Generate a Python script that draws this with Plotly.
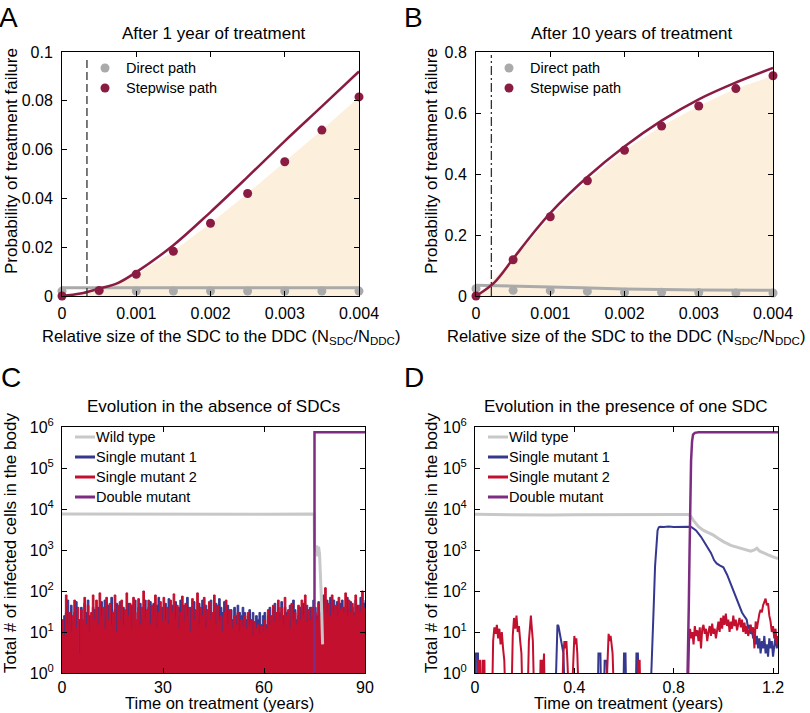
import plotly.graph_objects as go

W, H = 810, 713


def fx(p):
    return p / W


def fy(p):
    return 1 - p / H


# ---------------- DATA ----------------
# Panels A & B: relative size of SDC to DDC
SDC_RATIO = [0, 0.0005, 0.001, 0.0015, 0.002, 0.0025, 0.003, 0.0035, 0.004]
CURVE_X = [0, 0.00025, 0.0005, 0.00075, 0.001, 0.0015, 0.002, 0.0025, 0.003, 0.0035, 0.004]

A_DIRECT_SIM = [0.002, 0.002, 0.002, 0.002, 0.002, 0.002, 0.002, 0.002, 0.002]
A_STEP_SIM = [0.0, 0.0023, 0.0089, 0.0183, 0.0298, 0.042, 0.055, 0.068, 0.0816]
A_DIRECT_X = [0, 0.004]
A_DIRECT_CURVE = [0.0034, 0.0034]
A_STEP_CURVE = [0, 0.001, 0.003, 0.0053, 0.0098, 0.0208, 0.0344, 0.0488, 0.0635, 0.0777, 0.092]
A_THRESHOLD = 0.000336

B_DIRECT_SIM = [0.024, 0.0186, 0.0175, 0.015, 0.012, 0.012, 0.011, 0.010, 0.010]
B_STEP_SIM = [0.0, 0.119, 0.26, 0.378, 0.478, 0.557, 0.623, 0.680, 0.722]
B_DIRECT_X = [0, 0.001, 0.002, 0.003, 0.004]
B_DIRECT_CURVE = [0.035, 0.0295, 0.023, 0.0197, 0.0186]
B_STEP_CURVE = [0, 0.045, 0.122, 0.2, 0.272, 0.39, 0.49, 0.575, 0.645, 0.70, 0.748]
B_THRESHOLD = 0.000207

LEGEND_AB = ["Direct path", "Stepwise path"]
LEGEND_CD = ["Wild type", "Single mutant 1", "Single mutant 2", "Double mutant"]

# Panel C: evolution without SDCs (years), sampled every half year
C_TIME = [i * 0.5 for i in range(181)]
C_MUT2 = [
    20, 8, 80, 15, 30, 10, 25, 60, 12, 40,
    3, 35, 20, 70, 15, 45, 10, 30, 80, 20,
    60, 15, 90, 25, 40, 12, 70, 20, 50, 15,
    30, 80, 10, 45, 20, 60, 15, 35, 90, 25,
    50, 12, 70, 30, 20, 65, 15, 40, 100, 20,
    35, 60, 15, 45, 25, 80, 12, 30, 55, 18,
    70, 20, 40, 15, 60, 30, 85, 20, 45, 12,
    30, 75, 18, 50, 25, 40, 10, 65, 20, 35,
    90, 15, 40, 25, 70, 12, 35, 55, 20, 30,
    80, 15, 45, 20, 25, 10, 30, 60, 15, 35,
    20, 12, 25, 15, 30, 10, 20, 14, 25, 12,
    30, 15, 20, 8, 18, 12, 15, 9, 14, 10,
    20, 12, 35, 15, 25, 45, 18, 30, 60, 20,
    40, 15, 70, 25, 35, 12, 50, 20, 30, 15,
    45, 20, 60, 25, 80, 18, 35, 20, 40, 25,
    30, 20, 50, 25, 60, 35, 120, 30, 50, 25,
    80, 30, 45, 25, 70, 35, 40, 30, 90, 25,
    60, 30, 50, 25, 80, 35, 45, 30, 100, 40,
    20,
]
C_MUT1 = [
    12, 25, 30, 60, 10, 45, 18, 30, 55, 3,
    20, 40, 15, 50, 30, 60, 25, 15, 40, 35,
    25, 40, 30, 55, 20, 60, 30, 45, 15, 70,
    20, 35, 50, 15, 55, 25, 40, 20, 35, 50,
    20, 45, 30, 60, 15, 40, 50, 25, 30, 60,
    20, 40, 55, 25, 50, 20, 45, 70, 15, 40,
    25, 50, 20, 65, 15, 45, 30, 55, 25, 40,
    60, 20, 45, 30, 70, 15, 40, 25, 55, 30,
    20, 50, 30, 60, 20, 45, 25, 35, 60, 20,
    30, 50, 20, 65, 40, 30, 55, 20, 45, 25,
    35, 20, 40, 25, 45, 30, 25, 40, 30, 20,
    25, 35, 20, 30, 15, 25, 20, 30, 15, 25,
    30, 15, 25, 40, 20, 35, 50, 25, 40, 30,
    55, 25, 40, 30, 20, 45, 25, 60, 35, 20,
    25, 40, 30, 50, 20, 45, 30, 40, 25, 60,
    40, 25, 55, 30, 40, 80, 35, 60, 30, 70,
    40, 60, 30, 55, 35, 50, 60, 40, 35, 70,
    35, 55, 40, 30, 60, 45, 35, 70, 40, 50,
    60,
]
C_WT_T = [0, 20, 40, 60, 74.9, 75.0, 75.3, 75.6, 75.9, 76.2, 76.5, 76.8, 77.0, 77.2, 77.4]
C_WT = [7500, 7400, 7500, 7450, 7500, 1300, 900, 1300, 700, 1200, 800, 250, 80, 20, 5]
C_DM_T = [75.0, 75.0, 90]
C_DM = [0.5, 740000, 740000]
C_BASE_T = [0, 90]
C_BASE = [1, 1]

# Panel D: evolution with one SDC (years)
D_WT_T = [0, 0.1, 0.2, 0.3, 0.4, 0.5, 0.6, 0.7, 0.8, 0.86, 0.87, 0.88, 0.89, 0.9, 0.92, 0.94,
          0.96, 0.98, 1.0, 1.03, 1.06, 1.09, 1.11, 1.125, 1.135, 1.145, 1.16, 1.18, 1.2, 1.22]
D_WT = [7400, 7200, 7300, 7100, 7200, 7300, 7100, 7200, 7300, 7300, 6500, 5200, 4300, 3700,
        3000, 2600, 2300, 1900, 1600, 1300, 1150, 1000, 930, 1000, 1100, 950, 850, 760, 680, 620]

D_M1_T = [0, 0.003, 0.004, 0.012, 0.013, 0.02, 0.021, 0.024,
          0.325, 0.328, 0.332, 0.336, 0.34, 0.344, 0.348, 0.352, 0.356, 0.36,
          0.495, 0.497, 0.505, 0.507, 0.52, 0.522, 0.53, 0.532,
          0.598, 0.6, 0.606, 0.608, 0.648, 0.65, 0.656, 0.658,
          0.708, 0.711, 0.715, 0.72, 0.725, 0.73, 0.735, 0.74, 0.745, 0.76, 0.78, 0.8, 0.82,
          0.84, 0.86, 0.872, 0.89, 0.91, 0.933, 0.95, 0.963, 0.973, 0.985, 1.0, 1.015, 1.03,
          1.04, 1.05, 1.06, 1.067, 1.075, 1.085, 1.094, 1.1, 1.105, 1.11, 1.115, 1.12, 1.125,
          1.13, 1.135, 1.14, 1.145, 1.15, 1.155, 1.16, 1.165, 1.17, 1.175, 1.18, 1.185, 1.19,
          1.195, 1.2, 1.205, 1.21, 1.215, 1.22]
D_M1 = [0.5, 0.5, 3, 3, 0.5, 0.5, 2, 0.5,
        0.5, 3, 15, 14, 10, 8, 6, 4, 3, 0.5,
        0.5, 3, 3, 0.5, 0.5, 2, 2, 0.5,
        0.5, 3, 3, 0.5, 0.5, 3, 3, 0.5,
        0.5, 1.5, 5, 50, 400, 1500, 3000, 3600, 3700, 3650, 3750, 3650, 3700,
        3650, 3700, 3600, 3000, 2100, 1200, 850, 560, 470, 420, 380, 250, 150,
        105, 75, 50, 42, 30, 24, 20, 12, 15, 9, 11, 7, 9,
        5, 8, 4, 7, 3, 6, 4, 8, 3, 5, 2.5, 7, 4, 6,
        2.5, 5, 8, 4, 6, 3]

D_M2_T = [0, 0.012, 0.013, 0.02, 0.021, 0.03, 0.031, 0.038, 0.039,
          0.07, 0.073, 0.078, 0.083, 0.088, 0.093, 0.098, 0.103, 0.108, 0.113, 0.118, 0.121,
          0.148, 0.152, 0.157, 0.162, 0.167, 0.172, 0.177, 0.182, 0.187, 0.19,
          0.213, 0.217, 0.221, 0.225, 0.229, 0.233, 0.237,
          0.262, 0.264, 0.27, 0.272, 0.278, 0.28,
          0.352, 0.356, 0.36, 0.364, 0.368, 0.372, 0.376,
          0.392, 0.396, 0.4, 0.404, 0.408, 0.412, 0.416,
          0.53, 0.534, 0.538, 0.542, 0.546, 0.55, 0.554, 0.558,
          0.655, 0.657, 0.663, 0.665,
          0.858, 0.862, 0.866, 0.87, 0.875, 0.88, 0.885, 0.89, 0.895, 0.9, 0.905, 0.91, 0.915,
          0.92, 0.925, 0.93, 0.935, 0.94, 0.945, 0.95, 0.955, 0.96, 0.965, 0.97, 0.975, 0.98,
          0.985, 0.99, 0.995, 1.0, 1.005, 1.01, 1.015, 1.02, 1.025, 1.03, 1.035, 1.04, 1.045,
          1.05, 1.055, 1.06, 1.065, 1.07, 1.075, 1.08, 1.085, 1.09, 1.095, 1.1, 1.105, 1.11,
          1.115, 1.12, 1.125, 1.13, 1.135, 1.14, 1.145, 1.15, 1.155, 1.16, 1.165, 1.17, 1.175,
          1.18, 1.185, 1.19, 1.195, 1.2, 1.205, 1.21, 1.215, 1.22]
D_M2 = [0.5, 0.5, 2, 2, 0.5, 0.5, 2, 2, 0.5,
        0.5, 6, 13, 9, 15, 7, 12, 5, 10, 4, 2, 0.5,
        0.5, 8, 22, 12, 25, 10, 14, 6, 3, 0.5,
        0.5, 6, 18, 25, 12, 6, 0.5,
        0.5, 2, 2, 0.5, 3, 0.5,
        0.5, 3, 6, 4, 6, 2, 0.5,
        0.5, 4, 8, 5, 7, 3, 0.5,
        0.5, 4, 9, 6, 8, 5, 3, 0.5,
        0.5, 2, 2, 0.5,
        0.5, 6, 12, 7, 10, 5, 14, 8, 11, 6, 13, 4, 12,
        15, 9, 12, 6, 10, 14, 8, 16, 9, 12, 7, 11, 18,
        10, 22, 12, 25, 15, 28, 14, 20, 10, 18, 12, 25, 14,
        20, 11, 16, 22, 13, 20, 10, 17, 9, 14, 8, 12, 15,
        10, 13, 4, 18, 12, 22, 28, 35, 30, 45, 55, 65, 45,
        50, 25, 18, 10, 14, 7, 12, 5, 8]

D_DM_T = [0.855, 0.858, 0.861, 0.864, 0.867, 0.87, 0.874, 0.878, 0.885, 0.9, 1.22]
D_DM = [0.5, 3, 50, 1000, 20000, 150000, 450000, 650000, 720000, 740000, 740000]

LOG_TICKS = [1, 10, 100, 1000, 10000, 100000, 1000000]
LOG_TICKTEXT = ["10<sup>%d</sup>" % i for i in range(7)]

# ---------------- STYLE ----------------
MAROON = "#8a1c43"
GRAY_PT = "#aaaaaa"
PEACH = "#fcf0dc"
WT = "#c8c8c8"
BLUE = "#35388f"
RED = "#c4102f"
PURPLE = "#7d2c82"
FONT = "Liberation Sans, Arial, Helvetica, sans-serif"

fig = go.Figure()

# ---- Panel A ----
fig.add_trace(go.Scatter(x=SDC_RATIO, y=A_STEP_SIM, mode="lines", line=dict(width=0, color=PEACH),
                         fill="tozeroy", fillcolor=PEACH, hoverinfo="skip", xaxis="x", yaxis="y"))
fig.add_trace(go.Scatter(x=A_DIRECT_X, y=A_DIRECT_CURVE, mode="lines", line=dict(color=GRAY_PT, width=3),
                         xaxis="x", yaxis="y"))
fig.add_trace(go.Scatter(x=CURVE_X, y=A_STEP_CURVE, mode="lines", line=dict(color=MAROON, width=2.5, shape="spline"),
                         xaxis="x", yaxis="y"))
fig.add_trace(go.Scatter(x=[A_THRESHOLD, A_THRESHOLD], y=[0.0, 0.097], mode="lines",
                         line=dict(color="#333333", width=1.3, dash="8px,4px"), xaxis="x", yaxis="y"))
fig.add_trace(go.Scatter(x=SDC_RATIO, y=A_DIRECT_SIM, mode="markers", marker=dict(color=GRAY_PT, size=9),
                         name=LEGEND_AB[0], cliponaxis=False, xaxis="x", yaxis="y"))
fig.add_trace(go.Scatter(x=SDC_RATIO, y=A_STEP_SIM, mode="markers", marker=dict(color=MAROON, size=9),
                         name=LEGEND_AB[1], cliponaxis=False, xaxis="x", yaxis="y"))

# ---- Panel B ----
fig.add_trace(go.Scatter(x=SDC_RATIO, y=B_STEP_SIM, mode="lines", line=dict(width=0, color=PEACH),
                         fill="tozeroy", fillcolor=PEACH, hoverinfo="skip", xaxis="x2", yaxis="y2"))
fig.add_trace(go.Scatter(x=B_DIRECT_X, y=B_DIRECT_CURVE, mode="lines", line=dict(color=GRAY_PT, width=3, shape="spline"),
                         xaxis="x2", yaxis="y2"))
fig.add_trace(go.Scatter(x=CURVE_X, y=B_STEP_CURVE, mode="lines", line=dict(color=MAROON, width=2.5, shape="spline"),
                         xaxis="x2", yaxis="y2"))
fig.add_trace(go.Scatter(x=[B_THRESHOLD, B_THRESHOLD], y=[0.0, 0.79], mode="lines",
                         line=dict(color="#333333", width=1.3, dash="9px,3px,2px,3px"), xaxis="x2", yaxis="y2"))
fig.add_trace(go.Scatter(x=SDC_RATIO, y=B_DIRECT_SIM, mode="markers", marker=dict(color=GRAY_PT, size=9),
                         name=LEGEND_AB[0], cliponaxis=False, xaxis="x2", yaxis="y2"))
fig.add_trace(go.Scatter(x=SDC_RATIO, y=B_STEP_SIM, mode="markers", marker=dict(color=MAROON, size=9),
                         name=LEGEND_AB[1], cliponaxis=False, xaxis="x2", yaxis="y2"))

# ---- Panel C ----
fig.add_trace(go.Scatter(x=C_BASE_T, y=C_BASE, mode="lines", line=dict(width=0), hoverinfo="skip",
                         xaxis="x3", yaxis="y3"))
fig.add_trace(go.Scatter(x=C_TIME, y=C_MUT1, mode="lines", line=dict(color=BLUE, width=1, shape="hv"),
                         fill="tonexty", fillcolor=BLUE, name=LEGEND_CD[1], xaxis="x3", yaxis="y3"))
fig.add_trace(go.Scatter(x=C_BASE_T, y=C_BASE, mode="lines", line=dict(width=0), hoverinfo="skip",
                         xaxis="x3", yaxis="y3"))
fig.add_trace(go.Scatter(x=C_TIME, y=C_MUT2, mode="lines", line=dict(color=RED, width=1, shape="hv"),
                         fill="tonexty", fillcolor=RED, name=LEGEND_CD[2], xaxis="x3", yaxis="y3"))
fig.add_trace(go.Scatter(x=C_WT_T, y=C_WT, mode="lines", line=dict(color=WT, width=3),
                         name=LEGEND_CD[0], xaxis="x3", yaxis="y3"))
fig.add_trace(go.Scatter(x=C_DM_T, y=C_DM, mode="lines", line=dict(color=PURPLE, width=2.5),
                         name=LEGEND_CD[3], xaxis="x3", yaxis="y3"))

# ---- Panel D ----
fig.add_trace(go.Scatter(x=D_WT_T, y=D_WT, mode="lines", line=dict(color=WT, width=3),
                         name=LEGEND_CD[0], xaxis="x4", yaxis="y4"))
fig.add_trace(go.Scatter(x=D_M1_T, y=D_M1, mode="lines", line=dict(color=BLUE, width=2),
                         name=LEGEND_CD[1], xaxis="x4", yaxis="y4"))
fig.add_trace(go.Scatter(x=D_M2_T, y=D_M2, mode="lines", line=dict(color=RED, width=2),
                         name=LEGEND_CD[2], xaxis="x4", yaxis="y4"))
fig.add_trace(go.Scatter(x=D_DM_T, y=D_DM, mode="lines", line=dict(color=PURPLE, width=2.5),
                         name=LEGEND_CD[3], xaxis="x4", yaxis="y4"))

# ---------------- AXES ----------------
axis_common = dict(showline=True, linecolor="black", linewidth=1, mirror="ticks", ticks="inside",
                   ticklen=5, tickcolor="black", showgrid=False, zeroline=False, automargin=False,
                   tickfont=dict(size=16, color="black", family=FONT))

fig.update_layout(
    xaxis=dict(domain=[fx(62), fx(359)], range=[0, 0.004], anchor="y",
               tickvals=[0, 0.001, 0.002, 0.003, 0.004], ticktext=["0", "0.001", "0.002", "0.003", "0.004"],
               ticklabelstandoff=3, **axis_common),
    yaxis=dict(domain=[fy(296), fy(52)], range=[0, 0.1], anchor="x",
               tickvals=[0, 0.02, 0.04, 0.06, 0.08, 0.1], ticktext=["0", "0.02", "0.04", "0.06", "0.08", "0.1"],
               ticklabelstandoff=5, **axis_common),
    xaxis2=dict(domain=[fx(476), fx(773)], range=[0, 0.004], anchor="y2",
                tickvals=[0, 0.001, 0.002, 0.003, 0.004], ticktext=["0", "0.001", "0.002", "0.003", "0.004"],
                ticklabelstandoff=3, **axis_common),
    yaxis2=dict(domain=[fy(296), fy(52)], range=[0, 0.8], anchor="x2",
                tickvals=[0, 0.2, 0.4, 0.6, 0.8], ticktext=["0", "0.2", "0.4", "0.6", "0.8"],
                ticklabelstandoff=5, **axis_common),
    xaxis3=dict(domain=[fx(62), fx(365)], range=[0, 90], anchor="y3",
                tickvals=[0, 30, 60, 90], ticklabelstandoff=0, **axis_common),
    yaxis3=dict(domain=[fy(673), fy(427)], type="log", range=[0, 6], anchor="x3",
                tickvals=LOG_TICKS, ticktext=LOG_TICKTEXT, ticklabelstandoff=4, **axis_common),
    xaxis4=dict(domain=[fx(475), fx(778)], range=[0, 1.22], anchor="y4",
                tickvals=[0, 0.4, 0.8, 1.2], ticktext=["0", "0.4", "0.8", "1.2"],
                ticklabelstandoff=0, **axis_common),
    yaxis4=dict(domain=[fy(673), fy(427)], type="log", range=[0, 6], anchor="x4",
                tickvals=LOG_TICKS, ticktext=LOG_TICKTEXT, ticklabelstandoff=4, **axis_common),
)

# ---------------- TEXT & LEGENDS ----------------
ann = []
shapes = []


def add_text(text, x, y, size, rot=0, xanchor="center", yanchor="middle"):
    ann.append(dict(text=text, x=fx(x), y=fy(y), xref="paper", yref="paper", showarrow=False,
                    font=dict(size=size, color="black", family=FONT), textangle=rot,
                    xanchor=xanchor, yanchor=yanchor, borderpad=0))


# marker legends (A, B)
for lx, tx in [(105, 125), (509, 529)]:
    for i, (name, col) in enumerate(zip(LEGEND_AB, [GRAY_PT, MAROON])):
        cy = 68 + 20 * i
        shapes.append(dict(type="circle", xref="paper", yref="paper", x0=fx(lx - 4.5), x1=fx(lx + 4.5),
                           y0=fy(cy + 4.5), y1=fy(cy - 4.5), fillcolor=col, line=dict(width=0)))
        add_text(name, tx, cy, 14.5, xanchor="left")

# line legends (C, D)
for lx0, lx1, tx in [(75, 95, 95), (488, 508, 508)]:
    for i, (name, col) in enumerate(zip(LEGEND_CD, [WT, BLUE, RED, PURPLE])):
        cy = 437 + 20 * i
        shapes.append(dict(type="line", xref="paper", yref="paper", x0=fx(lx0), x1=fx(lx1),
                           y0=fy(cy), y1=fy(cy), line=dict(color=col, width=3)))
        add_text(name, tx, cy, 14.5, xanchor="left")

add_text("A", -2, 17, 28, xanchor="left")
add_text("B", 403, 17, 28, xanchor="left")
add_text("C", 0, 377, 28, xanchor="left")
add_text("D", 403, 377, 28, xanchor="left")

add_text("After 1 year of treatment", 214, 33, 17)
add_text("After 10 years of treatment", 632, 33, 17)
add_text("Evolution in the absence of SDCs", 214, 407, 17)
add_text("Evolution in the presence of one SDC", 626, 407, 17)

xt = "Relative size of the SDC to the DDC (N<sub>SDC</sub>/N<sub>DDC</sub>)"
add_text(xt, 221, 337, 16.5)
add_text(xt, 626, 337, 16.5)
add_text("Time on treatment (years)", 219, 713, 16.5, yanchor="bottom")
add_text("Time on treatment (years)", 628, 713, 16.5, yanchor="bottom")

add_text("Probability of treatment failure", 11, 161, 17, rot=-90)
add_text("Probability of treatment failure", 431, 161, 17, rot=-90)
add_text("Total # of infected cells in the body", 10, 543, 17, rot=-90)
add_text("Total # of infected cells in the body", 431, 543, 17, rot=-90)

fig.update_layout(
    annotations=ann, shapes=shapes, showlegend=False,
    width=W, height=H, autosize=False,
    margin=dict(l=0, r=0, t=0, b=0, pad=0),
    paper_bgcolor="white", plot_bgcolor="white",
    font=dict(family=FONT, color="black"),
)

# The figure fills the whole 810x713 window: drop the page's default 8px body margin.
fig.write_html("out.html", config={"displayModeBar": False},
               post_script="document.body.style.margin='0px';")
